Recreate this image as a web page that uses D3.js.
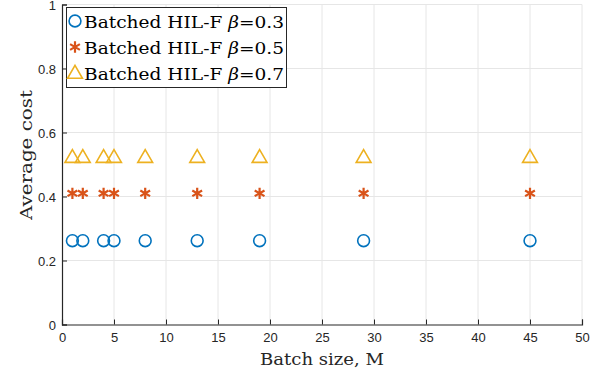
<!DOCTYPE html>
<html>
<head>
  <meta charset="utf-8">
  <style>
    body { margin: 0; background: #fff; }
    .lbl { font-family: "DejaVu Serif", "Liberation Serif", serif; font-size: 17px; fill: #262626; }
    .leg { font-family: "DejaVu Serif", "Liberation Serif", serif; font-size: 17px; fill: #000; }
  </style>
</head>
<body>
  <svg id="chart" width="605" height="374"></svg>
  <script src="https://d3js.org/d3.v7.min.js"></script>
  <script>
    // batch sizes and average cost per beta
    const batchSizes = [1, 2, 4, 5, 8, 13, 19, 29, 45];
    const cost03 = [0.262, 0.262, 0.262, 0.262, 0.262, 0.262, 0.262, 0.262, 0.262];
    const cost05 = [0.41, 0.41, 0.41, 0.41, 0.41, 0.41, 0.41, 0.41, 0.41];
    const cost07 = [0.523, 0.523, 0.523, 0.523, 0.523, 0.523, 0.523, 0.523, 0.523];
    const seriesNames = ["0.3", "0.5", "0.7"];
    const xTicks = d3.range(0, 51, 5);
    const yTicks = [0, 0.2, 0.4, 0.6, 0.8, 1];

    const svg = d3.select("#chart");
    const x = d3.scaleLinear().domain([0, 50]).range([62, 582]);
    const y = d3.scaleLinear().domain([0, 1]).range([324.5, 4.5]);

    // grid
    svg.append("g").selectAll("line").data(xTicks.slice(1)).enter().append("line")
      .attr("x1", d => x(d)).attr("x2", d => x(d))
      .attr("y1", y(0)).attr("y2", y(1))
      .attr("stroke", "#e6e6e6").attr("stroke-width", 1);
    svg.append("g").selectAll("line").data(yTicks.slice(1)).enter().append("line")
      .attr("x1", x(0)).attr("x2", x(50))
      .attr("y1", d => y(d)).attr("y2", d => y(d))
      .attr("stroke", "#e6e6e6").attr("stroke-width", 1);

    const xAxis = svg.append("g").attr("transform", `translate(0,${y(0)})`)
      .call(d3.axisBottom(x).tickValues(xTicks).tickSize(-5).tickPadding(8));
    const yAxis = svg.append("g").attr("transform", `translate(${x(0)},0)`)
      .call(d3.axisLeft(y).tickValues(yTicks).tickFormat(d => d === 0 || d === 1 ? d : d.toFixed(1)).tickSize(-5).tickPadding(6));
    [xAxis, yAxis].forEach(a => {
      a.attr("font-family", "'Liberation Sans', Arial, sans-serif").attr("font-size", 13);
      a.selectAll(".tick text").attr("fill", "#262626");
      a.selectAll(".domain").attr("stroke", "#262626").attr("stroke-width", 1.2);
      a.selectAll(".tick line").attr("stroke", "#262626");
    });
    yAxis.selectAll(".tick text").attr("dy", "0.36em");

    svg.append("text").attr("class", "lbl").attr("text-anchor", "middle")
      .attr("x", 322).attr("y", 365).attr("textLength", 124).attr("lengthAdjust", "spacingAndGlyphs")
      .text("Batch size, M");
    svg.append("text").attr("class", "lbl").attr("text-anchor", "middle")
      .attr("textLength", 130).attr("lengthAdjust", "spacingAndGlyphs")
      .attr("transform", `translate(32,155) rotate(-90)`).text("Average cost");

    const blue = "#0072BD", orange = "#D95319", yellow = "#EDB120";
    const circ = d3.symbol().type(d3.symbolCircle).size(110);
    const star = d3.symbol().type(d3.symbolAsterisk).size(90);
    const tri = d3.symbol().type(d3.symbolTriangle).size(95);

    function drawMarker(sel, which) {
      if (which === 0) sel.append("path").attr("d", circ()).attr("fill", "none").attr("stroke", blue).attr("stroke-width", 1.6);
      if (which === 1) sel.append("path").attr("d", star()).attr("fill", "none").attr("stroke", orange).attr("stroke-width", 2.2);
      if (which === 2) sel.append("path").attr("d", tri()).attr("transform", "translate(0,1)").attr("fill", "none").attr("stroke", yellow).attr("stroke-width", 1.6);
    }

    [cost03, cost05, cost07].forEach((vals, i) => {
      svg.append("g").selectAll("g").data(batchSizes).enter().append("g")
        .attr("transform", (d, j) => `translate(${x(d)},${y(vals[j])})`)
        .each(function() { drawMarker(d3.select(this), i); });
    });

    // legend
    const leg = svg.append("g");
    leg.append("rect").attr("x", 66.5).attr("y", 7.5).attr("width", 220).attr("height", 80)
      .attr("fill", "#fff").attr("stroke", "#262626").attr("stroke-width", 1);
    seriesNames.forEach((b, i) => {
      const cy = 21 + i * 26;
      const g = leg.append("g").attr("transform", `translate(75,${cy})`);
      drawMarker(g, i);
      const t = leg.append("text").attr("class", "leg").attr("x", 84).attr("y", cy + 6.5)
        .attr("textLength", 200).attr("lengthAdjust", "spacingAndGlyphs");
      t.append("tspan").text("Batched HIL-F ");
      t.append("tspan").attr("font-style", "italic").text("β");
      t.append("tspan").text("=" + b);
    });
  </script>
</body>
</html>
